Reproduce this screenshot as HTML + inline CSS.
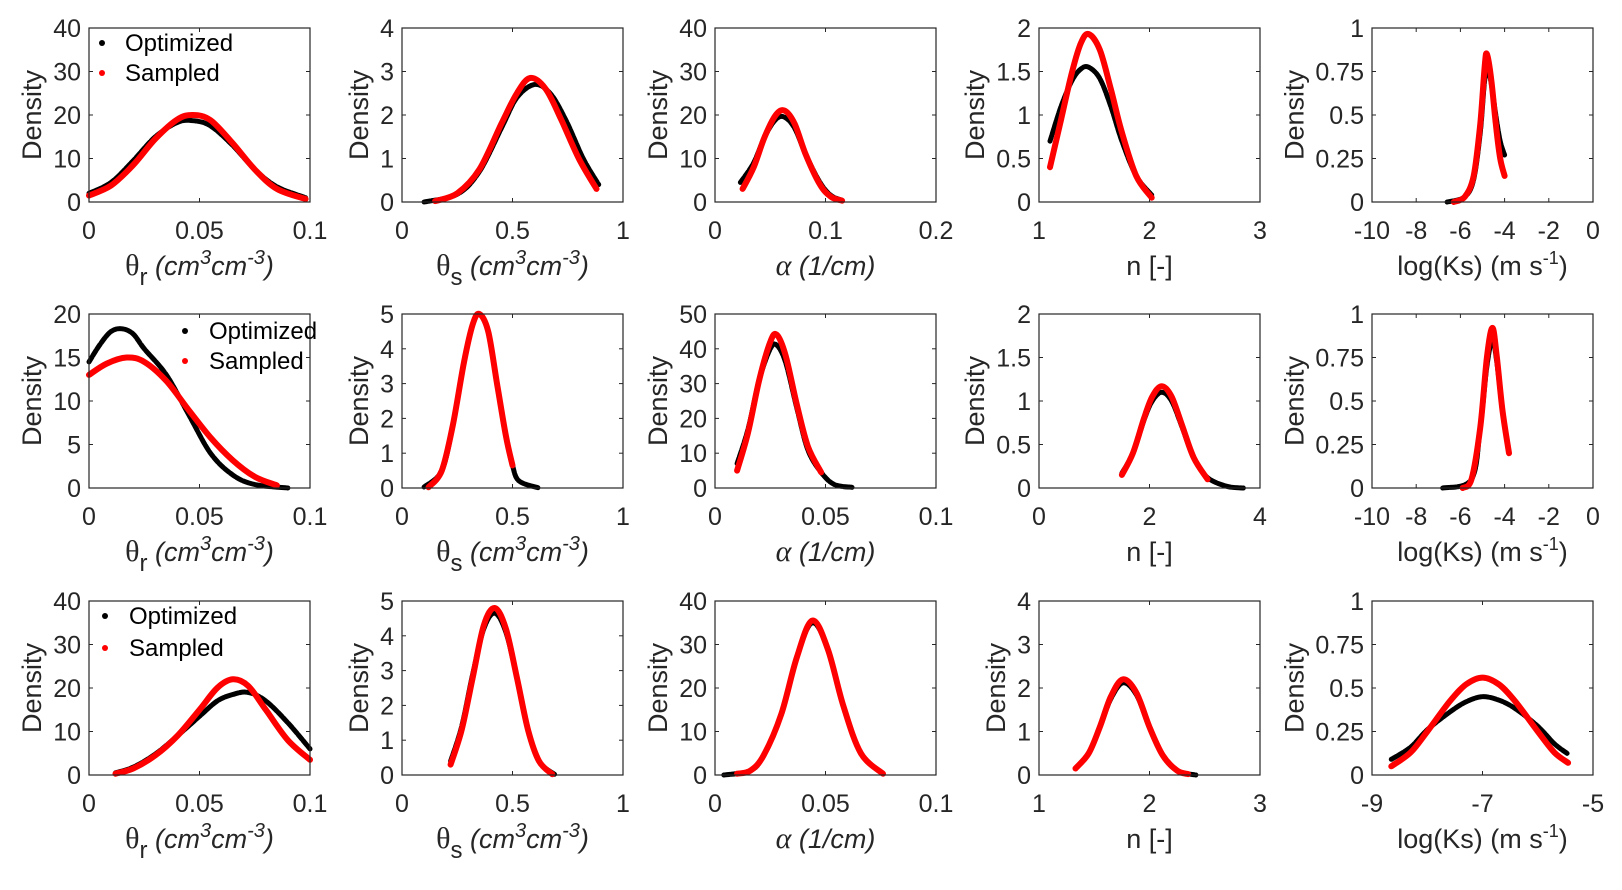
<!DOCTYPE html>
<html><head><meta charset="utf-8">
<style>
html,body{margin:0;padding:0;background:#fff;}
svg{display:block;font-family:"Liberation Sans",sans-serif;}
</style></head>
<body>
<svg id="fig" width="1622" height="890" viewBox="0 0 1622 890"></svg>
<script>
// ---- data (per panel, row-major) ----
const xMin = [0,0,0,1,-10, 0,0,0,0,-10, 0,0,0,1,-9];
const xMax = [0.1,1,0.2,3,0, 0.1,1,0.1,4,0, 0.1,1,0.1,3,-5];
const yMax = [40,4,40,2,1, 20,5,50,2,1, 40,5,40,4,1];
const xTicks = [
 ["0","0.05","0.1"],["0","0.5","1"],["0","0.1","0.2"],["1","2","3"],["-10","-8","-6","-4","-2","0"],
 ["0","0.05","0.1"],["0","0.5","1"],["0","0.05","0.1"],["0","2","4"],["-10","-8","-6","-4","-2","0"],
 ["0","0.05","0.1"],["0","0.5","1"],["0","0.05","0.1"],["1","2","3"],["-9","-7","-5"]];
const yTicks = [
 ["0","10","20","30","40"],["0","1","2","3","4"],["0","10","20","30","40"],["0","0.5","1","1.5","2"],["0","0.25","0.5","0.75","1"],
 ["0","5","10","15","20"],["0","1","2","3","4","5"],["0","10","20","30","40","50"],["0","0.5","1","1.5","2"],["0","0.25","0.5","0.75","1"],
 ["0","10","20","30","40"],["0","1","2","3","4","5"],["0","10","20","30","40"],["0","1","2","3","4"],["0","0.25","0.5","0.75","1"]];
const optX = [
 [0,0.01,0.02,0.03,0.04,0.047,0.055,0.065,0.075,0.085,0.098],
 [0.1,0.25,0.35,0.45,0.52,0.6,0.67,0.74,0.82,0.89],
 [0.023,0.035,0.045,0.055,0.063,0.072,0.082,0.095,0.105,0.115],
 [1.1,1.2,1.3,1.38,1.45,1.55,1.65,1.75,1.88,2.02],
 [-6.6,-5.8,-5.4,-5.1,-4.9,-4.75,-4.6,-4.4,-4.2,-4],
 [0,0.005,0.01,0.015,0.02,0.025,0.035,0.045,0.055,0.065,0.075,0.09],
 [0.1,0.18,0.23,0.28,0.32,0.35,0.39,0.43,0.47,0.5,0.53,0.62],
 [0.01,0.015,0.02,0.025,0.028,0.032,0.037,0.042,0.048,0.054,0.062],
 [1.5,1.7,1.9,2.05,2.22,2.4,2.6,2.8,3.05,3.4,3.7],
 [-6.8,-5.5,-5.1,-4.8,-4.55,-4.35,-4.1,-3.8],
 [0.012,0.02,0.03,0.04,0.05,0.058,0.065,0.072,0.08,0.09,0.1],
 [0.22,0.27,0.32,0.37,0.42,0.47,0.52,0.57,0.62,0.69],
 [0.004,0.016,0.022,0.03,0.037,0.044,0.051,0.058,0.066,0.076],
 [1.33,1.45,1.55,1.65,1.76,1.88,2,2.12,2.25,2.42],
 [-8.65,-8.3,-8,-7.6,-7.3,-7,-6.7,-6.4,-6,-5.7,-5.45]];
const optY = [
 [2,4.5,9.5,15,18.3,18.7,17.5,13,7.5,3.5,1],
 [0,0.18,0.7,1.7,2.4,2.7,2.5,1.9,1.0,0.4],
 [4.5,9,15,19,19.5,17,11,4.5,1.5,0.4],
 [0.7,1.1,1.4,1.53,1.55,1.42,1.1,0.7,0.3,0.08],
 [0,0.03,0.13,0.4,0.7,0.75,0.68,0.5,0.35,0.27],
 [14.5,16.5,18,18.3,17.7,16,13,8.5,4,1.5,0.4,0],
 [0.03,0.5,1.8,3.6,4.7,5,4.5,3,1.5,0.65,0.2,0],
 [7,17,31,40,41,36,23,11,4.5,1,0.2],
 [0.17,0.4,0.78,1.0,1.1,1.0,0.68,0.35,0.12,0.02,0],
 [0,0.05,0.35,0.7,0.85,0.72,0.45,0.2],
 [0.5,1.8,4.8,9,13.5,17,18.5,19,17,12,6],
 [0.4,1.4,2.9,4.2,4.65,4.1,2.8,1.3,0.4,0.02],
 [0,1,4.5,14,27,35,29,16,5,0.3],
 [0.15,0.5,1.1,1.75,2.12,1.85,1.1,0.45,0.1,0],
 [0.09,0.16,0.26,0.36,0.42,0.45,0.43,0.38,0.28,0.18,0.12]];
const smpX = [
 [0,0.01,0.02,0.03,0.04,0.047,0.055,0.065,0.075,0.085,0.098],
 [0.15,0.25,0.35,0.45,0.52,0.58,0.65,0.72,0.8,0.88],
 [0.025,0.035,0.045,0.055,0.063,0.072,0.082,0.095,0.105,0.115],
 [1.1,1.2,1.3,1.38,1.45,1.55,1.65,1.75,1.88,2.02],
 [-6.3,-5.8,-5.4,-5.1,-4.9,-4.8,-4.6,-4.4,-4.2,-4],
 [0,0.008,0.017,0.025,0.035,0.045,0.055,0.065,0.075,0.085],
 [0.12,0.18,0.23,0.28,0.32,0.35,0.39,0.43,0.47,0.5],
 [0.01,0.015,0.02,0.025,0.028,0.032,0.037,0.042,0.048],
 [1.5,1.7,1.9,2.05,2.22,2.4,2.6,2.8,3.05],
 [-5.9,-5.5,-5.1,-4.8,-4.55,-4.35,-4.1,-3.8],
 [0.012,0.02,0.03,0.04,0.05,0.058,0.065,0.072,0.08,0.09,0.1],
 [0.22,0.27,0.32,0.37,0.42,0.47,0.52,0.57,0.62,0.68],
 [0.01,0.016,0.022,0.03,0.037,0.044,0.051,0.058,0.066,0.076],
 [1.33,1.45,1.55,1.65,1.76,1.88,2,2.12,2.25,2.35],
 [-8.65,-8.3,-8,-7.6,-7.3,-7,-6.7,-6.4,-6,-5.7,-5.45]];
const smpY = [
 [1.5,3.8,8.5,14.5,19,20,18.8,13.5,7.5,3,0.7],
 [0.02,0.2,0.75,1.8,2.5,2.85,2.6,1.9,1,0.3],
 [3,8,15,20,21,18,11,4,1.2,0.3],
 [0.4,0.95,1.5,1.83,1.93,1.75,1.3,0.8,0.3,0.05],
 [0,0.03,0.15,0.45,0.78,0.85,0.7,0.45,0.25,0.15],
 [13,14.3,15,14.5,12.3,9,5.8,3.2,1.3,0.3],
 [0.02,0.5,1.8,3.6,4.7,5,4.5,3,1.5,0.65],
 [5,16,31,42,44,38,24,12,4.5],
 [0.15,0.4,0.8,1.05,1.17,1.05,0.7,0.35,0.1],
 [0,0.05,0.35,0.75,0.92,0.75,0.45,0.2],
 [0.3,1.5,4.5,9,15,20,22,20.5,15,8,3.5],
 [0.3,1.3,2.8,4.3,4.8,4.2,2.8,1.3,0.4,0.02],
 [0.3,1,4.5,14,27,35.5,29,16,5,0.3],
 [0.15,0.5,1.1,1.8,2.2,1.9,1.1,0.45,0.1,0.02],
 [0.05,0.13,0.25,0.42,0.52,0.56,0.52,0.42,0.25,0.13,0.07]];
const legendLabels = ["Optimized","Sampled"];

// ---- layout ----
const NS="http://www.w3.org/2000/svg";
const svg=document.getElementById('fig');
const colL=[89,402,715,1039,1372], colW=221;
const rowT=[28,314,601], rowH=174;
const TXT="#262626";
function mk(tag,attrs,parent){const e=document.createElementNS(NS,tag);for(const k in attrs)e.setAttribute(k,attrs[k]);(parent||svg).appendChild(e);return e;}
function smoothPath(pts){
  if(pts.length<2)return "";
  let d="M"+pts[0][0].toFixed(1)+","+pts[0][1].toFixed(1);
  for(let i=0;i<pts.length-1;i++){
    const p0=pts[i-1]||pts[i],p1=pts[i],p2=pts[i+1],p3=pts[i+2]||p2;
    const c1=[p1[0]+(p2[0]-p0[0])/6,p1[1]+(p2[1]-p0[1])/6];
    const c2=[p2[0]-(p3[0]-p1[0])/6,p2[1]-(p3[1]-p1[1])/6];
    d+="C"+c1[0].toFixed(1)+","+c1[1].toFixed(1)+" "+c2[0].toFixed(1)+","+c2[1].toFixed(1)+" "+p2[0].toFixed(1)+","+p2[1].toFixed(1);
  }
  return d;
}
function xLabel(g,i,cx,y){
  const c=i%5;
  const t=mk('text',{x:cx,y:y,'text-anchor':'middle','font-size':27,fill:TXT},g);
  
  
  if(c===0||c===1){
    t.innerHTML='<tspan font-family="Liberation Serif" font-size="30">θ</tspan><tspan dy="10" font-size="24">'+(c===0?'r':'s')+'</tspan><tspan dy="-10" font-style="italic"> (cm</tspan><tspan dy="-11" font-size="20" font-style="italic">3</tspan><tspan dy="11" font-style="italic">cm</tspan><tspan dy="-11" font-size="20" font-style="italic">-3</tspan><tspan dy="11" font-style="italic">)</tspan>';
  }else if(c===2){
    t.innerHTML='<tspan font-family="Liberation Serif" font-style="italic" font-size="30">α</tspan><tspan font-style="italic"> (1/cm)</tspan>';
  }else if(c===3){
    t.textContent='n [-]';
  }else{
    t.innerHTML='log(Ks) (m s<tspan dy="-11" font-size="18">-1</tspan><tspan dy="11">)</tspan>';
  }
}
for(let i=0;i<15;i++){
  const r=Math.floor(i/5),c=i%5;
  const L=colL[c],T=rowT[r],W=colW,H=rowH;
  const g=mk('g',{});
  
  
  const sx=v=>L+(v-xMin[i])/(xMax[i]-xMin[i])*W;
  const sy=v=>T+H-v/yMax[i]*H;
  xTicks[i].forEach(s=>{
    const x=sx(parseFloat(s));
    mk('line',{x1:x,y1:T+H,x2:x,y2:T+H-4,stroke:TXT,'stroke-width':1},g);
    mk('line',{x1:x,y1:T,x2:x,y2:T+4,stroke:TXT,'stroke-width':1},g);
    const t=mk('text',{x:x,y:T+H+37,'text-anchor':'middle','font-size':25,fill:TXT},g);
    
    
    t.textContent=s;
  });
  let maxW=0;
  yTicks[i].forEach(s=>{
    const y=sy(parseFloat(s));
    mk('line',{x1:L,y1:y,x2:L+4,y2:y,stroke:TXT,'stroke-width':1},g);
    mk('line',{x1:L+W,y1:y,x2:L+W-4,y2:y,stroke:TXT,'stroke-width':1},g);
    const t=mk('text',{x:L-8,y:y+9,'text-anchor':'end','font-size':25,fill:TXT},g);
    
    
    t.textContent=s;
    maxW=Math.max(maxW,t.getComputedTextLength());
  });
  const yl=mk('text',{x:0,y:0,'text-anchor':'middle','font-size':27,fill:TXT,transform:'translate('+(L-8-maxW-12)+','+(T+H/2)+') rotate(-90)'},g);
  
  
  yl.textContent='Density';
  xLabel(g,i,L+W/2,T+H+73);
  const op=optX[i].map((v,k)=>[sx(v),sy(optY[i][k])]);
  const sp=smpX[i].map((v,k)=>[sx(v),sy(smpY[i][k])]);
  const o=mk('path',{d:smoothPath(op),fill:'none',stroke:'#000','stroke-width':5,'stroke-linecap':'round','stroke-linejoin':'round','stroke-dasharray':'6 1.5'},g);
  
  
  const s=mk('path',{d:smoothPath(sp),fill:'none',stroke:'#ff0000','stroke-width':6,'stroke-linecap':'round','stroke-linejoin':'round'},g);
  
  
  mk('rect',{x:L,y:T,width:W,height:H,fill:'none',stroke:TXT,'stroke-width':1.2},g);
  if(c===0){
    const lx=[102,185,105][r], tx=[125,209,129][r], ly=[T+15,T+17,T+15];
    const lg=mk('g',{});
    
    
    legendLabels.forEach((lab,k)=>{
      const yy=ly[r]+k*(r===2?32:30);
      const d=mk('circle',{cx:lx,cy:yy,r:3,fill:k===0?'#000':'#ff0000'},lg);
      
      
      const t=mk('text',{x:tx,y:yy+8,'font-size':24,fill:'#000'},lg);
      
      
      t.textContent=lab;
    });
  }
}
</script>
</body></html>
